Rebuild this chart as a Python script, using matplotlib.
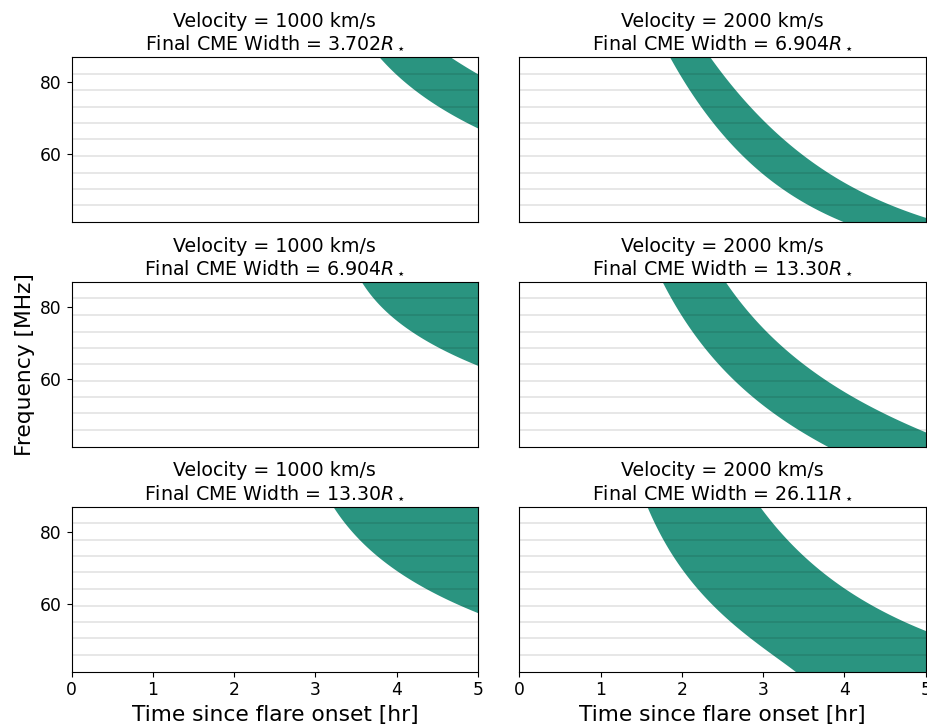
import numpy as np
import matplotlib
matplotlib.use("Agg")
import matplotlib.pyplot as plt

# Frequency levels (MHz) at which the band edges are sampled; first/last are the axis limits
freq_levels = [86.9, 82.4, 77.8, 73.2, 68.7, 64.1, 59.5, 54.9, 50.4, 45.8, 41.2]
# Sub-band boundaries drawn as faint horizontal lines
channel_lines = [82.4, 77.8, 73.2, 68.7, 64.1, 59.5, 54.9, 50.4, 45.8]

velocities = [1000, 2000]
# Final CME widths per row (left column, right column)
final_widths = [["3.702", "6.904"],
                ["6.904", "13.30"],
                ["13.30", "26.11"]]

# Back (trailing) edge of the emission band: time [hr] at each frequency level
trail_times = [
    [[3.771, 3.997, 4.244, 4.510, 4.86, 5.30, 5.85, 6.5, 7.3, 8.2, 9.3],
     [1.866, 1.961, 2.071, 2.235, 2.400, 2.564, 2.748, 2.974, 3.240, 3.568, 3.999]],
    [[3.558, 3.731, 3.936, 4.190, 4.500, 4.899, 5.55, 6.25, 7.0, 7.9, 8.9],
     [1.764, 1.866, 1.989, 2.133, 2.276, 2.461, 2.646, 2.871, 3.138, 3.445, 3.794]],
    [[3.198, 3.362, 3.555, 3.780, 4.045, 4.366, 4.736, 5.32, 5.95, 6.7, 7.6],
     [1.579, 1.661, 1.764, 1.887, 2.030, 2.194, 2.400, 2.605, 2.851, 3.117, 3.404]],
]
# Front (leading) edge of the emission band
lead_times = [
    [[4.706, 4.96, 5.35, 5.8, 6.3, 6.9, 7.6, 8.4, 9.3, 10.3, 11.5],
     [2.391, 2.482, 2.625, 2.810, 3.035, 3.281, 3.527, 3.815, 4.143, 4.553, 5.2]],
    [[5.3, 5.6, 6.0, 6.4, 6.9, 7.5, 8.2, 9.0, 9.9, 11.0, 12.2],
     [2.564, 2.666, 2.830, 3.035, 3.261, 3.527, 3.794, 4.102, 4.471, 4.963, 5.45]],
    [[5.6, 5.9, 6.3, 6.8, 7.3, 7.9, 8.6, 9.4, 10.3, 11.4, 12.6],
     [2.974, 3.097, 3.281, 3.507, 3.753, 4.040, 4.348, 4.717, 5.25, 5.95, 6.8]],
]

x_ticks = [0, 1, 2, 3, 4, 5]
y_ticks = [60, 80]

band_color = "#2a9480"


def smooth_edge(f_pts, t_pts, n=500):
    """Least-squares cubic (in 1/f) through the sampled edge times."""
    f = np.asarray(f_pts, float)
    t = np.asarray(t_pts, float)
    coef = np.polyfit(1.0 / f, t, 3)
    ff = np.linspace(f.min(), f.max(), n)
    return ff, np.polyval(coef, 1.0 / ff)


W, H = 927, 725
fig = plt.figure(figsize=(W / 100, H / 100), dpi=100)

col_px = [(71.7, 478.0), (519.3, 925.6)]
row_px = [(57.3, 222.0), (282.3, 446.5), (506.7, 671.7)]

TICK_FS = 12.3
TITLE_FS = 13.7
LABEL_FS = 15.7

for r, (yt, yb) in enumerate(row_px):
    for c, (xl, xr) in enumerate(col_px):
        ax = fig.add_axes([xl / W, 1 - yb / H, (xr - xl) / W, (yb - yt) / H])
        ff, t_back = smooth_edge(freq_levels, trail_times[r][c])
        _, t_front = smooth_edge(freq_levels, lead_times[r][c])
        ax.fill_betweenx(ff, t_back, t_front, color=band_color,
                         linewidth=0, zorder=1)
        for fl in channel_lines:
            ax.axhline(fl, color="k", alpha=0.1, lw=1.3, zorder=2)
        ax.set_xlim(0, 5)
        ax.set_ylim(min(freq_levels), max(freq_levels))
        ax.set_title(f"Velocity = {velocities[c]} km/s\n"
                     f"Final CME Width = {final_widths[r][c]}$R_\\star$",
                     fontsize=TITLE_FS)
        if c == 0:
            ax.set_yticks(y_ticks)
            ax.tick_params(axis="y", labelsize=TICK_FS)
        else:
            ax.set_yticks([])
        if r == 2:
            ax.set_xticks(x_ticks)
            ax.tick_params(axis="x", labelsize=TICK_FS)
            ax.set_xlabel("Time since flare onset [hr]", fontsize=LABEL_FS)
        else:
            ax.set_xticks([])
        if r == 1 and c == 0:
            ax.set_ylabel("Frequency [MHz]", fontsize=LABEL_FS)

fig.savefig("out.png", dpi=100)
